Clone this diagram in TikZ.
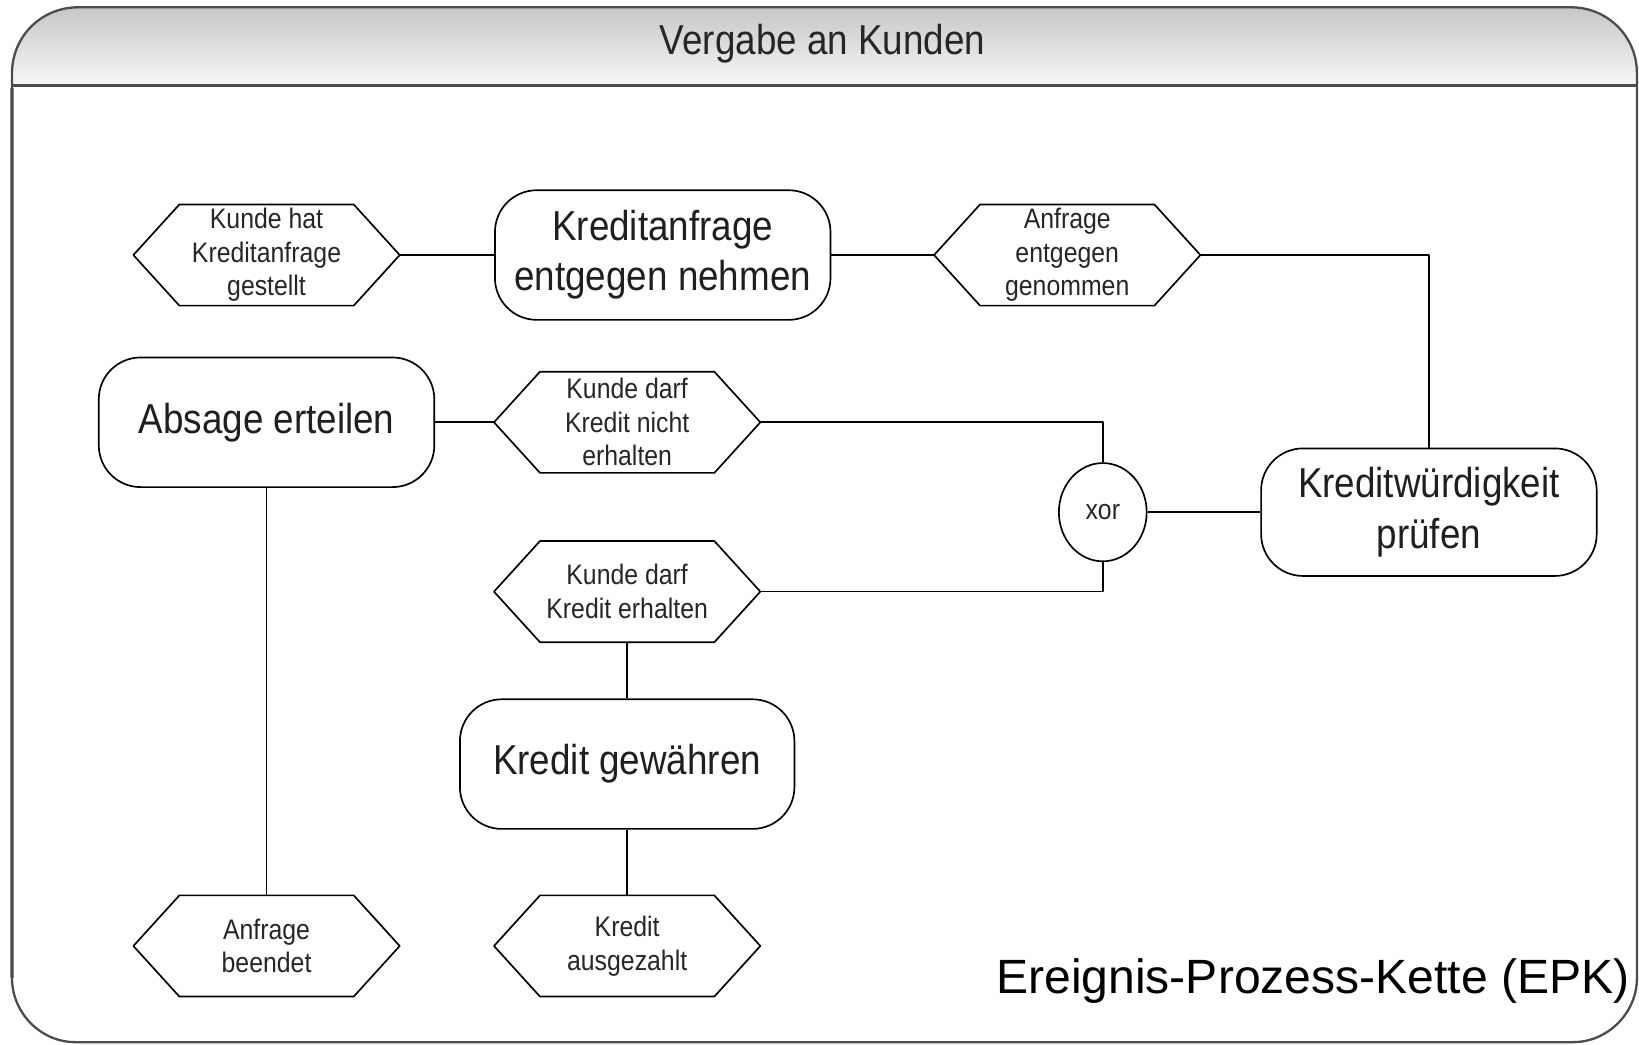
\documentclass[tikz,border=0pt]{standalone}
\usepackage{fontspec}
\setmainfont{Liberation Sans}
\newfontfamily\narrowsans[FakeStretch=0.88]{Liberation Sans}
\usetikzlibrary{shapes.geometric}

% outline of a flat-topped event hexagon around a named node
\newcommand{\hexoutline}[1]{%
  \draw[hexline] ([xshift=22pt]#1.north west) -- ([xshift=-22pt]#1.north east)
    -- (#1.east) -- ([xshift=-22pt]#1.south east) -- ([xshift=22pt]#1.south west)
    -- (#1.west) -- cycle;}

% swimlane frame with rounded corners
\def\lanepath{(11.5,70) .. controls (11.5,35) and (39.5,7) .. (74.5,7) -- (1503,7)
  .. controls (1538,7) and (1566,35) .. (1566,70) -- (1566,936)
  .. controls (1566,969) and (1538,997) .. (1505,997) -- (72,997)
  .. controls (39,997) and (11.5,969) .. (11.5,936) -- cycle}

\begin{document}
\begin{tikzpicture}[x=0.5pt,y=-0.5pt,line join=round,
  func/.style={draw=black,line width=0.8pt,rounded corners=20pt,
    minimum width=160.5pt,minimum height=62pt,inner sep=0pt,align=center,
    font=\narrowsans\fontsize{20}{24}\selectfont,text=black!88},
  evt/.style={minimum width=127pt,minimum height=48pt,inner sep=0pt,
    align=center,font=\narrowsans\fontsize{13.5}{16}\selectfont,text=black!85},
  xorgate/.style={draw=black,line width=0.8pt,ellipse,minimum width=42pt,
    minimum height=47pt,inner sep=0pt,
    font=\narrowsans\fontsize{13.5}{16}\selectfont,text=black!85},
  hexline/.style={draw=black,line width=0.8pt},
  conn/.style={draw=black,line width=0.8pt},
]
\useasboundingbox (0,0) rectangle (1568,999);

% lane background, header band and border
\fill[white] \lanepath;
\begin{scope}
  \clip \lanepath;
  \shade[top color=black!24,bottom color=black!3] (0,0) rectangle (1568,82);
\end{scope}
\draw[black!45,line width=1.6pt] (11.5,84) -- (11.5,936);
\draw[black!70,line width=1.1pt] \lanepath;
\draw[black!70,line width=1.4pt] (11.5,82) -- (1566,82);

\node[font=\narrowsans\fontsize{20}{24}\selectfont,text=black!85] (title) at (787,42) {Vergabe an Kunden};

% events and functions
\node[evt] (e1) at (255,244) {Kunde hat\\Kreditanfrage\\gestellt};
\node[func] (f1) at (634,244) {Kreditanfrage\\entgegen nehmen};
\node[evt] (e2) at (1021,244) {Anfrage\\entgegen\\genommen};
\node[func] (f2) at (255,404) {Absage erteilen};
\node[evt] (e3) at (600,404) {Kunde darf\\Kredit nicht\\erhalten};
\node[xorgate] (x) at (1055,490) {xor};
\node[func,minimum height=61pt] (f3) at (1367,490) {Kreditwürdigkeit\\prüfen};
\node[evt] (e4) at (600,566) {Kunde darf\\Kredit erhalten};
\node[func,minimum width=160pt] (f4) at (600,731) {Kredit gewähren};
\node[evt] (e5) at (255,905) {Anfrage\\beendet};
\node[evt] (e6) at (600,905) {Kredit\\ausgezahlt};

\foreach \n in {e1,e2,e3,e4,e5,e6} {\hexoutline{\n}}

% control flow
\draw[conn] (e1.east) -- (f1.west);
\draw[conn] (f1.east) -- (e2.west);
\draw[conn] (e2.east) -| (f3.north);
\draw[conn] (f3.west) -- (x.east);
\draw[conn] (x.north) |- (e3.east);
\draw[conn] (x.south) |- (e4.east);
\draw[conn] (e3.west) -- (f2.east);
\draw[conn] (f2.south) -- (e5.north);
\draw[conn] (e4.south) -- (f4.north);
\draw[conn] (f4.south) -- (e6.north);

\node[anchor=east,font=\fontsize{23}{27}\selectfont] (caption) at (1566,939) {Ereignis-Prozess-Kette (EPK)};
\end{tikzpicture}
\end{document}
